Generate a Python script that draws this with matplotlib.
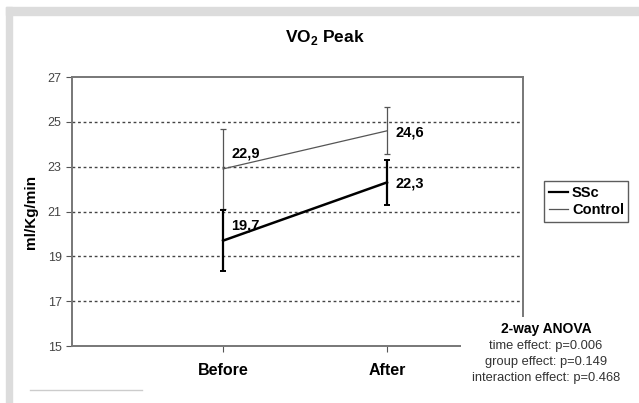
import matplotlib
matplotlib.use("Agg")
import matplotlib.pyplot as plt
from matplotlib.lines import Line2D
from matplotlib.patches import Rectangle

plt.rcParams['font.family'] = ['Liberation Sans', 'DejaVu Sans']
plt.rcParams['mathtext.fontset'] = 'custom'
plt.rcParams['mathtext.bf'] = 'Liberation Sans:bold'

# data
phases = ["Before", "After"]
ssc_mean = [19.7, 22.3]
ssc_err = [1.35, 1.0]
ctrl_mean = [22.9, 24.6]
ctrl_err = [1.8, 1.05]
ssc_labels = ["19,7", "22,3"]
ctrl_labels = ["22,9", "24,6"]
anova_lines = ["time effect: p=0.006", "group effect: p=0.149",
               "interaction effect: p=0.468"]

fig = plt.figure(figsize=(6.39, 4.03), dpi=100)
# grey frame of the original figure
fig.patches.append(Rectangle((6/639, 0), 6/639, 1 - 7/403, transform=fig.transFigure,
                             color="#dcdcdc", zorder=0))
fig.patches.append(Rectangle((6/639, 1 - 15/403), 1, 8/403, transform=fig.transFigure,
                             color="#dcdcdc", zorder=0))
fig.lines.append(Line2D([30/639, 142/639], [1 - 390/403] * 2, transform=fig.transFigure,
                        color="#cccccc", lw=1))

ax = fig.add_axes([72/639, 0.1414, 451/639, 0.6675])
x = [1, 2]

ax.errorbar(x, ctrl_mean, yerr=ctrl_err, color="#555555", lw=0.9, capsize=2.5,
            elinewidth=0.9, capthick=0.9, label="Control", zorder=3)
ax.errorbar(x, ssc_mean, yerr=ssc_err, color="black", lw=1.8, capsize=2.5,
            elinewidth=1.6, capthick=1.4, label="SSc", zorder=4)

offsets = [(6, 6), (6, -1)]
for i in range(2):
    ax.annotate(ctrl_labels[i], (x[i], ctrl_mean[i]), xytext=offsets[i],
                textcoords="offset points", fontsize=10.5, fontweight="bold",
                ha="left", va="bottom" if i == 0 else "center")
    ax.annotate(ssc_labels[i], (x[i], ssc_mean[i]), xytext=offsets[i],
                textcoords="offset points", fontsize=10.5, fontweight="bold",
                ha="left", va="bottom" if i == 0 else "center")

ax.set_xlim(0.079, 2.829)
ax.set_ylim(15, 27)
ax.set_yticks(range(15, 28, 2))
ax.set_xticks(x)
ax.set_xticklabels(phases, fontsize=11.5, fontweight="bold")
ax.tick_params(axis="x", length=4, color="#555555", pad=8)
ax.tick_params(axis="y", length=4, color="#555555", labelsize=9, labelcolor="#444444")
for t in ax.get_xticklabels():
    t.set_color("black")
for s in ax.spines.values():
    s.set_color("#777777")
    s.set_linewidth(1.4)
for yv in range(17, 27, 2):
    ax.axhline(yv, color="#444444", lw=1, ls=(0, (2, 2)), zorder=1)

ax.set_ylabel("ml/Kg/min", fontsize=11, fontweight="bold", labelpad=7)

fig.text(0.509, 0.908, r"VO$_{\mathbf{2}}$ Peak", ha="center", va="center",
         fontsize=12.5, fontweight="bold")

h = [Line2D([], [], color="black", lw=1.6), Line2D([], [], color="#555555", lw=0.9)]
leg = fig.legend(h, ["SSc", "Control"], loc="upper left",
                 bbox_to_anchor=(537/639, 1 - 174/403), frameon=True, fancybox=False,
                 prop={"weight": "bold", "size": 10.5},
                 handlelength=1.3, handletextpad=0.3, borderpad=0.3, labelspacing=0.25)
leg.get_frame().set_edgecolor("#333333")
leg.get_frame().set_linewidth(1)

# white box of the ANOVA note hides the lower right corner of the frame
ax.add_patch(Rectangle((461/639, 1 - 386/403), 176/639, 69/403, transform=fig.transFigure,
                       facecolor="white", edgecolor="none", clip_on=False, zorder=10))

fig.text(546/639, 1 - 329/403, "2-way ANOVA", ha="center", va="center",
         fontsize=10, fontweight="bold")
for i, line in enumerate(anova_lines):
    fig.text(546/639, 1 - (346 + 16 * i)/403, line, ha="center", va="center",
             fontsize=9.3, color="#333333")

fig.savefig("out.png", dpi=100)
